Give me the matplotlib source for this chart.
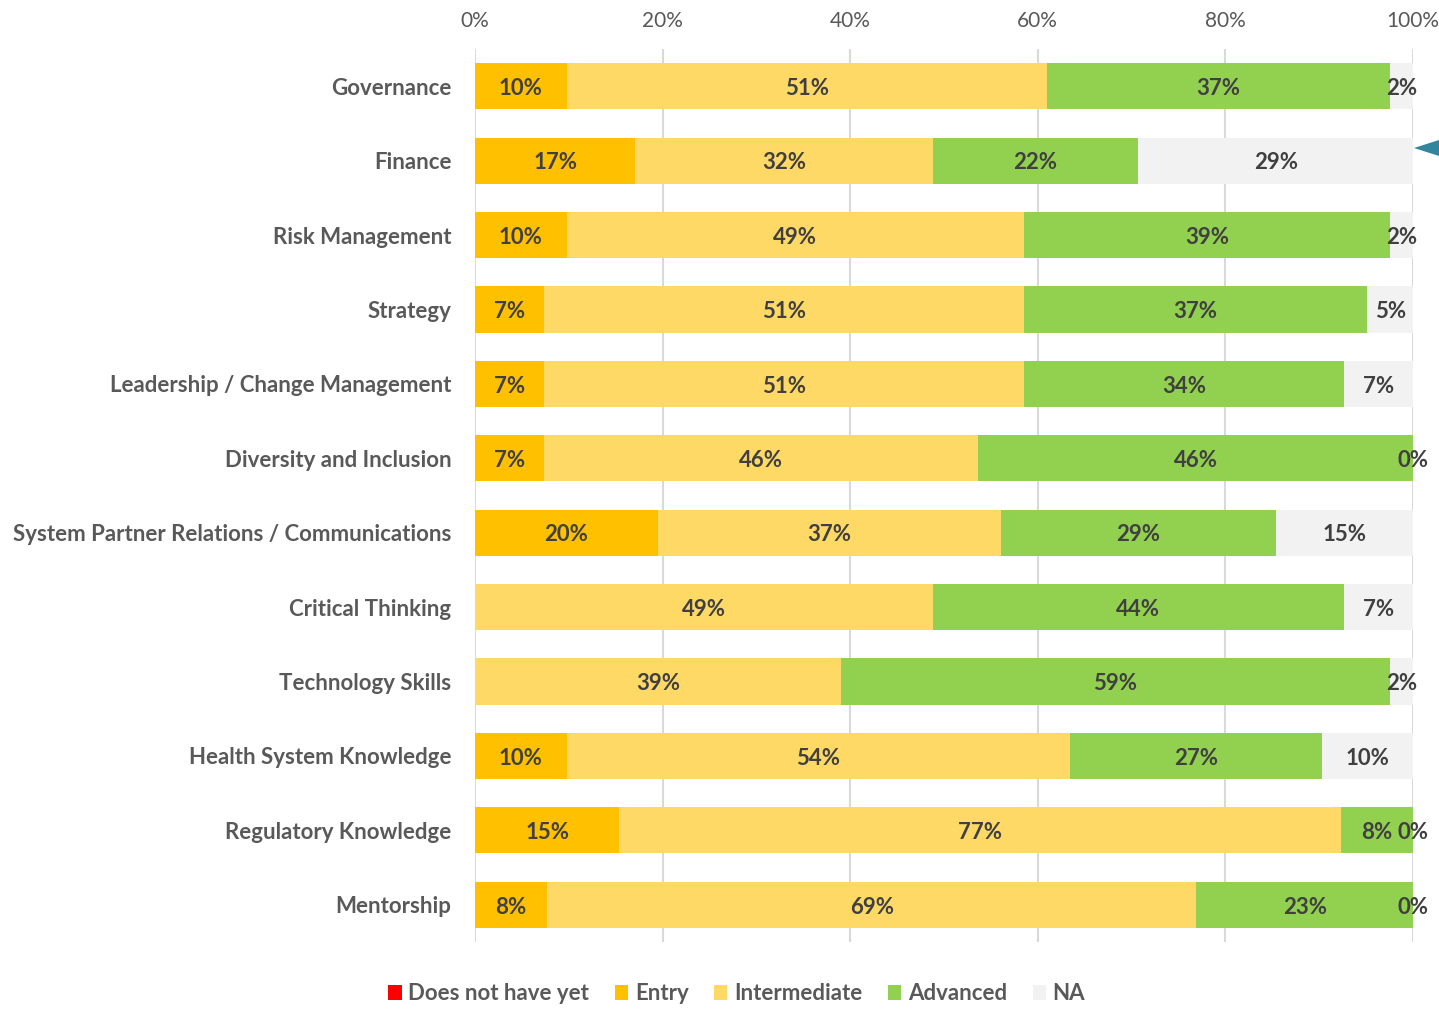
import matplotlib
matplotlib.use("Agg")
import matplotlib.pyplot as plt
from matplotlib.patches import Polygon

plt.rcParams['font.family'] = ['Lato', 'DejaVu Sans']

skills = [
    "Governance", "Finance", "Risk Management", "Strategy",
    "Leadership / Change Management", "Diversity and Inclusion",
    "System Partner Relations / Communications", "Critical Thinking",
    "Technology Skills", "Health System Knowledge",
    "Regulatory Knowledge", "Mentorship",
]

# Share of respondents (%) at each proficiency level
does_not_have_yet = [0, 0, 0, 0, 0, 0, 0, 0, 0, 0, 0, 0]
entry = [9.76, 17.07, 9.76, 7.32, 7.32, 7.32, 19.51, 0, 0, 9.76, 15.38, 7.69]
intermediate = [51.22, 31.71, 48.78, 51.22, 51.22, 46.34, 36.59, 48.78, 39.02, 53.66, 76.92, 69.23]
advanced = [36.59, 21.95, 39.02, 36.59, 34.15, 46.34, 29.27, 43.90, 58.54, 26.83, 7.69, 23.08]
na = [2.44, 29.27, 2.44, 4.88, 7.32, 0, 14.63, 7.32, 2.44, 9.76, 0, 0]

levels = ["Does not have yet", "Entry", "Intermediate", "Advanced", "NA"]
series = [does_not_have_yet, entry, intermediate, advanced, na]
colors = ["#FF0000", "#FFC000", "#FFD966", "#92D050", "#F2F2F2"]
x_ticks = [0, 20, 40, 60, 80, 100]

fig = plt.figure(figsize=(14.39, 10.09), dpi=100)
ax = fig.add_axes([0.3301, 0.0664, 0.6518, 0.885])

y = list(range(len(skills)))
left = [0.0] * len(skills)
for name, vals, col in zip(levels, series, colors):
    ax.barh(y, vals, left=left, height=0.62, color=col, label=name,
            zorder=2, linewidth=0)
    for yi, (l, v) in enumerate(zip(left, vals)):
        if v > 0 or name == "NA":
            ax.text(l + v / 2, yi + 0.03, f"{round(v)}%", ha="center",
                    va="center", fontsize=16, fontweight="bold",
                    color="#404040", zorder=3)
    left = [l + v for l, v in zip(left, vals)]

ax.set_xlim(0, 100)
ax.set_ylim(len(skills) - 0.5, -0.5)
ax.set_yticks(y)
ax.set_yticklabels(skills, fontsize=16, fontweight="bold", color="#595959")
ax.set_xticks(x_ticks)
ax.set_xticklabels([f"{t}%" for t in x_ticks], fontsize=15, color="#595959")
ax.xaxis.tick_top()
ax.tick_params(axis="both", length=0)
ax.tick_params(axis="x", pad=13)
ax.tick_params(axis="y", pad=17)
ax.grid(axis="x", color="#D9D9D9", linewidth=1.5, zorder=0)
ax.set_axisbelow(True)
for s in ax.spines.values():
    s.set_visible(False)

leg = fig.legend(loc="center", bbox_to_anchor=(0.512, 0.015), ncol=5,
                 frameon=False, fontsize=16, handlelength=0.6,
                 handleheight=0.6, handletextpad=0.3, columnspacing=1.15)
for t in leg.get_texts():
    t.set_color("#595959")
    t.set_fontweight("bold")

# Callout pointer at the right edge
fig.patches.append(Polygon([(1414 / 1439, 1 - 148 / 1009),
                            (1439 / 1439, 1 - 140 / 1009),
                            (1439 / 1439, 1 - 156 / 1009)],
                           closed=True, transform=fig.transFigure,
                           facecolor="#31859C", edgecolor="none"))

fig.savefig("out.png", dpi=100)
